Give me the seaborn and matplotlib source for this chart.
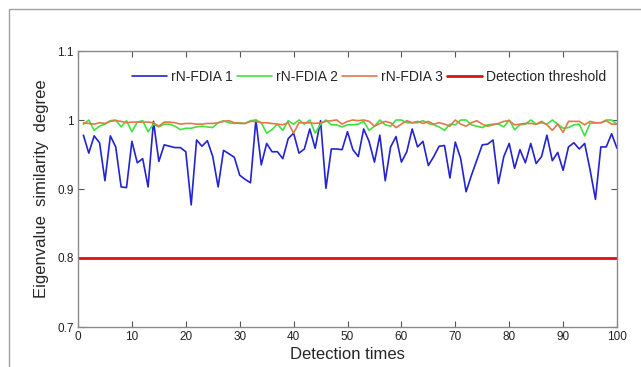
import numpy as np
import pandas as pd
import matplotlib
matplotlib.use("Agg")
import matplotlib.pyplot as plt
from matplotlib.patches import Rectangle
from matplotlib.ticker import FormatStrFormatter
import seaborn as sns

# detection index 1..100
times = list(range(1, 101))

fdia1 = [0.978, 0.952, 0.977, 0.967, 0.912, 0.977, 0.961, 0.903, 0.902, 0.969,
         0.938, 0.944, 0.903, 0.998, 0.940, 0.964, 0.962, 0.960, 0.960, 0.954,
         0.877, 0.971, 0.962, 0.970, 0.947, 0.903, 0.956, 0.951, 0.946, 0.920,
         0.914, 0.909, 1.000, 0.935, 0.966, 0.954, 0.954, 0.944, 0.973, 0.981,
         0.952, 0.958, 0.987, 0.959, 0.999, 0.901, 0.958, 0.958, 0.957, 0.983,
         0.957, 0.947, 0.987, 0.969, 0.939, 0.978, 0.912, 0.961, 0.976, 0.939,
         0.954, 0.987, 0.961, 0.969, 0.934, 0.947, 0.962, 0.963, 0.916, 0.968,
         0.944, 0.896, 0.920, 0.942, 0.964, 0.965, 0.971, 0.908, 0.947, 0.966,
         0.930, 0.957, 0.938, 0.966, 0.937, 0.947, 0.978, 0.941, 0.953, 0.927,
         0.961, 0.967, 0.958, 0.966, 0.928, 0.885, 0.961, 0.961, 0.980, 0.959]

fdia2 = [0.994, 1.000, 0.985, 0.991, 0.994, 0.999, 1.000, 0.990, 0.999, 0.983,
         0.997, 0.999, 0.983, 0.994, 0.990, 0.994, 0.994, 0.991, 0.986, 0.988,
         0.988, 0.990, 0.991, 0.990, 0.989, 0.996, 0.999, 0.996, 0.995, 0.996,
         0.995, 0.999, 1.000, 0.996, 0.981, 0.986, 0.994, 0.985, 0.999, 0.994,
         1.000, 0.994, 1.000, 0.981, 0.994, 1.000, 0.993, 0.993, 0.990, 0.993,
         0.993, 0.994, 0.998, 0.985, 0.991, 1.000, 0.993, 0.991, 1.000, 1.000,
         0.996, 0.996, 0.996, 0.999, 0.995, 0.993, 0.990, 0.985, 0.994, 0.993,
         1.000, 1.000, 0.993, 0.991, 0.989, 0.993, 0.994, 0.994, 0.990, 1.000,
         0.986, 0.993, 0.994, 1.000, 0.994, 0.996, 0.994, 1.000, 0.994, 0.988,
         0.989, 0.993, 0.994, 0.977, 0.995, 0.996, 0.996, 1.000, 1.000, 0.994]

fdia3 = [0.996, 0.995, 0.994, 0.996, 0.995, 0.998, 0.999, 0.998, 0.996, 0.997,
         0.997, 0.997, 0.997, 0.996, 0.991, 0.997, 0.997, 0.996, 0.994, 0.995,
         0.995, 0.994, 0.994, 0.995, 0.995, 0.996, 0.998, 0.999, 0.996, 0.995,
         0.995, 0.998, 0.998, 0.996, 0.996, 0.995, 0.994, 0.993, 0.996, 0.981,
         0.996, 0.996, 0.996, 0.995, 0.996, 0.998, 0.999, 1.000, 0.994, 0.998,
         1.000, 0.999, 1.000, 0.998, 0.991, 0.995, 0.998, 0.996, 0.989, 0.994,
         0.999, 0.996, 0.998, 0.995, 0.998, 0.994, 0.996, 0.994, 0.991, 1.000,
         0.994, 0.991, 0.996, 0.999, 0.994, 0.991, 0.993, 0.995, 0.998, 0.999,
         0.993, 0.994, 0.995, 0.995, 0.994, 0.998, 0.993, 0.985, 0.994, 0.982,
         0.998, 0.998, 0.998, 0.993, 0.998, 0.996, 0.996, 0.999, 0.994, 0.994]

threshold = 0.8
series_names = ["rN-FDIA 1", "rN-FDIA 2", "rN-FDIA 3"]
series_colors = ["#2323d2", "#3fe23f", "#e2784a"]

df = pd.DataFrame({"t": times, series_names[0]: fdia1,
                   series_names[1]: fdia2, series_names[2]: fdia3})
long = df.melt(id_vars="t", var_name="series", value_name="v")

sns.set_style("white")
plt.rcParams["font.family"] = ["Liberation Sans", "DejaVu Sans"]

fig = plt.figure(figsize=(6.41, 3.67), dpi=100)
ax = fig.add_axes([78 / 641, 1 - 327 / 367, 539 / 641, 276 / 367])

# outer frame
fig.add_artist(Rectangle((9 / 641, -0.1), 1.2, 1.1 - 9 / 367,
                         transform=fig.transFigure, fill=False,
                         edgecolor="#a0a0a0", linewidth=1.0))

sns.lineplot(data=long, x="t", y="v", hue="series", palette=series_colors,
             linewidth=1.2, ax=ax)
sns.lineplot(x=[0, 100], y=[threshold, threshold], color="#e01010",
             linewidth=2.0, ax=ax, label="Detection threshold")

ax.set_xlim(0, 100)
ax.set_ylim(0.7, 1.1)
ax.set_xticks(np.arange(0, 101, 10))
ax.set_yticks([0.7, 0.8, 0.9, 1.0, 1.1])
ax.yaxis.set_major_formatter(FormatStrFormatter("%g"))
ax.tick_params(direction="in", length=4, width=0.8, color="#555555",
               labelsize=8.5, top=True, right=True, labelcolor="#222222",
               bottom=True, left=True, pad=3)
for s in ax.spines.values():
    s.set_color("#8a8a8a")
    s.set_linewidth(1.0)

ax.set_xlabel("Detection times", fontsize=12, labelpad=3)
ax.set_ylabel("Eigenvalue  similarity  degree", fontsize=12, labelpad=6)

ax.legend(ncol=4, loc="center", bbox_to_anchor=(0.54, 0.905), frameon=False,
          fontsize=10, handlelength=2.5, columnspacing=0.3, handletextpad=0.3,
          borderpad=0)

fig.savefig("out.png", dpi=100)
